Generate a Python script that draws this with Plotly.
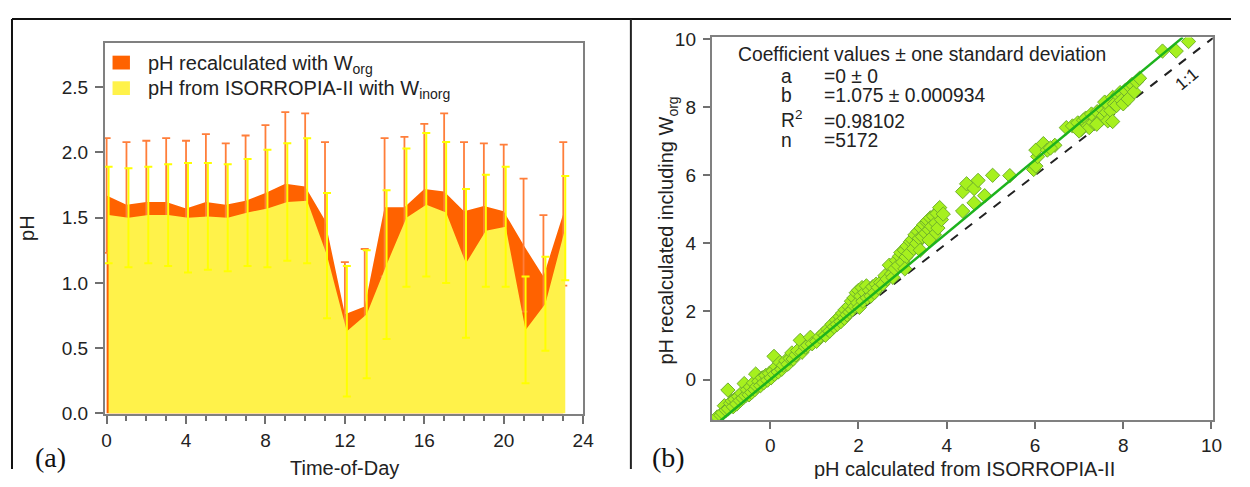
import plotly.graph_objects as go

# Page body keeps an 8px margin, so the figure is 16px smaller than the window
PAGE_W, PAGE_H = 1250, 487
OFF = 8
W, H = PAGE_W - 2 * OFF, PAGE_H - 2 * OFF

# ---------------- Panel (a) data ----------------
hours = list(range(24))
ph_worg = [1.67, 1.60, 1.62, 1.62, 1.57, 1.62, 1.60, 1.63, 1.69, 1.76, 1.74, 1.48,
           0.76, 0.82, 1.58, 1.58, 1.72, 1.70, 1.55, 1.59, 1.55, 1.29, 1.05, 1.53]
ph_worg_sd = [0.44, 0.48, 0.47, 0.49, 0.52, 0.52, 0.47, 0.50, 0.52, 0.55, 0.56, 0.60,
              0.40, 0.44, 0.53, 0.54, 0.50, 0.60, 0.53, 0.48, 0.51, 0.51, 0.47, 0.55]
ph_winorg = [1.52, 1.50, 1.52, 1.52, 1.50, 1.51, 1.50, 1.54, 1.57, 1.62, 1.63, 1.21,
             0.63, 0.76, 1.14, 1.50, 1.60, 1.54, 1.15, 1.40, 1.43, 0.64, 0.84, 1.42]
ph_winorg_sd = [0.37, 0.38, 0.37, 0.39, 0.42, 0.41, 0.41, 0.41, 0.45, 0.45, 0.48, 0.48,
                0.50, 0.49, 0.57, 0.53, 0.55, 0.54, 0.57, 0.43, 0.46, 0.41, 0.36, 0.40]
a_yticks = [0.0, 0.5, 1.0, 1.5, 2.0, 2.5]
a_xticks = [0, 4, 8, 12, 16, 20, 24]

# ---------------- Panel (b) data ----------------
isorropia_ph = [
    -1.20, -1.12, -1.08, -1.04, -1.00, -0.96, -0.95, -0.90, -0.86, -0.84, -0.80, -0.76, -0.72, -0.68,
    -0.65, -0.62, -0.59, -0.56, -0.52, -0.48, -0.45, -0.42, -0.38, -0.35, -0.33, -0.30, -0.26, -0.22,
    -0.18, -0.15, -0.10, -0.06, -0.02, 0.02, 0.06, 0.085, 0.10, 0.14, 0.18, 0.22, 0.26, 0.30, 0.35,
    0.40, 0.45, 0.49, 0.52, 0.58, 0.62, 0.68, 0.72, 0.80, 0.85, 0.91, 0.95,
    1.05, 1.12, 1.20, 1.25, 1.30, 1.35, 1.40, 1.45, 1.50, 1.52, 1.58, 1.60, 1.64, 1.68, 1.70, 1.74,
    1.78, 1.80, 1.84, 1.86, 1.90, 1.92, 1.95, 1.98, 2.00, 2.02, 2.05, 2.08, 2.10, 2.14, 2.18, 2.20,
    2.25, 2.28, 2.32, 2.36, 2.40, 2.45, 2.50, 2.55, 2.60, 2.65, 2.70, 2.75, 2.78,
    2.82, 2.86, 2.90, 2.93, 2.96, 3.00, 3.04, 3.08, 3.10, 3.14, 3.18, 3.22, 3.25, 3.28, 3.32, 3.35,
    3.38, 3.42, 3.45, 3.48, 3.52, 3.55, 3.57, 3.60, 3.63, 3.66, 3.70, 3.72, 3.75, 3.78, 3.80, 3.84,
    3.88, 3.92, 3.05, 3.40, 3.60,
    4.36, 4.45, 4.62, 4.71, 4.36, 4.62, 4.86, 5.04, 5.43,
    5.97, 6.02, 6.06, 6.02, 6.19, 6.28, 6.45, 6.35,
    6.71, 6.85, 6.97, 7.05, 7.10, 7.15, 7.20, 7.23, 7.28, 7.32, 7.36, 7.41, 7.45, 7.50, 7.52, 7.55,
    7.58, 7.62, 7.65, 7.68, 7.72, 7.76, 7.76, 7.80, 7.85, 7.88, 7.93, 7.96, 8.00, 8.05, 8.11, 8.15,
    8.20, 8.25, 8.30, 8.37, 7.40, 7.00,
    8.89, 9.20, 9.48]
recalc_ph = [
    -1.10, -1.05, -0.98, -0.77, -0.90, -0.31, -0.86, -0.70, -0.63, -0.80, -0.58, -0.72, -0.50, -0.62,
    -0.40, -0.55, -0.12, -0.48, -0.30, -0.45, -0.22, -0.38, -0.10, -0.30, 0.16, -0.20, -0.05, -0.18,
    0.05, -0.10, 0.12, -0.02, 0.18, 0.05, 0.25, 0.68, 0.15, 0.38, 0.22, 0.50, 0.30, 0.42, 0.55,
    0.45, 0.62, 0.78, 0.60, 0.72, 0.85, 1.15, 0.80, 0.95, 1.00, 1.24, 1.05,
    1.12, 1.25, 1.35, 1.30, 1.48, 1.42, 1.62, 1.55, 1.75, 1.62, 1.85, 1.70, 1.95, 1.80, 2.05, 1.90,
    2.15, 1.98, 2.30, 2.05, 2.40, 2.15, 2.55, 2.25, 2.62, 2.12, 2.45, 2.70, 2.30, 2.55, 2.75, 2.40,
    2.62, 2.45, 2.72, 2.55, 2.80, 2.70, 2.85, 2.80, 3.05, 2.95, 3.36, 3.10, 3.00,
    3.25, 3.50, 3.35, 3.62, 3.73, 3.45, 3.80, 3.60, 3.92, 3.70, 4.05, 4.11, 3.85, 4.25, 4.00, 4.35,
    4.15, 4.45, 4.20, 4.55, 4.30, 4.62, 4.67, 4.40, 4.75, 4.50, 4.80, 4.25, 4.60, 4.88, 4.45, 5.05,
    4.70, 4.86, 3.25, 3.80, 4.10,
    5.52, 5.75, 5.61, 5.85, 4.95, 5.19, 5.40, 6.00, 5.99,
    6.17, 6.27, 6.55, 6.74, 6.93, 6.74, 6.88, 6.80,
    7.40, 7.45, 7.54, 7.35, 7.62, 7.68, 7.45, 7.40, 7.80, 7.55, 7.70, 7.87, 7.60, 7.63, 7.95, 7.75,
    8.15, 7.85, 7.60, 8.05, 7.90, 8.29, 7.58, 8.10, 8.05, 8.35, 8.43, 8.20, 8.10, 8.50, 8.24, 8.60,
    8.67, 8.45, 8.75, 8.85, 7.50, 7.30,
    9.65, 9.65, 9.93]
fit_slope = 1.075
fit_x = [-1.15, 9.35]
one_to_one_x = [-1.4, 10.1]
b_ticks = [0, 2, 4, 6, 8, 10]

FONT = "Liberation Sans, Arial, sans-serif"
SERIF = "Liberation Serif, Times New Roman, serif"


def px(x):
    """page pixel x -> paper fraction"""
    return (x - OFF) / W


def py(y):
    """page pixel y -> paper fraction"""
    return 1 - (y - OFF) / H


fig = go.Figure()

# ----- Panel (a) -----
fig.add_trace(go.Scatter(x=hours, y=ph_worg, mode="lines", fill="tozeroy",
                         line=dict(width=0, color="#FF6200"), fillcolor="#FF6200",
                         xaxis="x", yaxis="y", showlegend=False, hoverinfo="skip"))
fig.add_trace(go.Scatter(x=hours, y=ph_worg, mode="markers",
                         marker=dict(size=1, color="rgba(0,0,0,0)"),
                         error_y=dict(type="data", array=ph_worg_sd, color="#FF7E3A",
                                      thickness=1.8, width=4),
                         xaxis="x", yaxis="y", showlegend=False, hoverinfo="skip"))
x_inorg = [h + 0.1 for h in hours]
fig.add_trace(go.Scatter(x=x_inorg, y=ph_winorg, mode="lines", fill="tozeroy",
                         line=dict(width=0, color="#FFF24A"), fillcolor="#FFF24A",
                         xaxis="x", yaxis="y", showlegend=False, hoverinfo="skip"))
fig.add_trace(go.Scatter(x=x_inorg, y=ph_winorg, mode="markers",
                         marker=dict(size=1, color="rgba(0,0,0,0)"),
                         error_y=dict(type="data", array=ph_winorg_sd, color="#FFFF00",
                                      thickness=2, width=4),
                         xaxis="x", yaxis="y", showlegend=False, hoverinfo="skip"))

# ----- Panel (b) -----
fig.add_trace(go.Scatter(x=one_to_one_x, y=one_to_one_x, mode="lines",
                         line=dict(color="#222222", width=2, dash="dash"),
                         xaxis="x2", yaxis="y2", showlegend=False, hoverinfo="skip"))
fig.add_trace(go.Scatter(x=isorropia_ph, y=recalc_ph, mode="markers",
                         marker=dict(symbol="diamond", size=11, color="#A6F01E",
                                     line=dict(color="#6FB02C", width=1)),
                         xaxis="x2", yaxis="y2", showlegend=False, hoverinfo="skip"))
fig.add_trace(go.Scatter(x=fit_x, y=[fit_slope * v for v in fit_x], mode="lines",
                         line=dict(color="#1DB31D", width=2.5),
                         xaxis="x2", yaxis="y2", showlegend=False, hoverinfo="skip"))

axis_common = dict(showgrid=False, zeroline=False, showline=True, mirror=True,
                   linecolor="#808080", linewidth=1.5, ticks="outside", tickcolor="#707070",
                   tickwidth=1.5, tickfont=dict(family=FONT, size=19, color="#222222"))

fig.update_layout(
    width=W, height=H, margin=dict(l=0, r=0, t=0, b=0), autosize=False,
    paper_bgcolor="white", plot_bgcolor="white", showlegend=False,
    font=dict(family=FONT, color="#222222"),
    xaxis=dict(domain=[px(102.7), px(586.7)], range=[-0.1, 24.0], tickvals=a_xticks,
               ticklen=8, minor=dict(dtick=1, tick0=0, ticklen=5, ticks="outside",
                                     tickcolor="#707070", tickwidth=1.5),
               anchor="y", **axis_common),
    yaxis=dict(domain=[py(421.7), py(35)], range=[-0.005, 2.84], tickvals=a_yticks,
               tickformat=".1f", ticklen=8, ticklabelstandoff=3, anchor="x", **axis_common),
    xaxis2=dict(domain=[px(716.6), px(1223.6)], range=[-1.33, 10.03], tickvals=b_ticks,
                ticklen=7, anchor="y2", **axis_common),
    yaxis2=dict(domain=[py(428.3), py(29.3)], range=[-1.2, 10.05], tickvals=b_ticks,
                ticklen=7, ticklabelstandoff=3, anchor="x2", **axis_common),
)

shapes = [
    # outer frame lines and divider
    dict(type="line", xref="paper", yref="paper", x0=px(9), x1=1, y0=py(10), y1=py(10),
         line=dict(color="#111111", width=2)),
    dict(type="line", xref="paper", yref="paper", x0=px(9), x1=px(9), y0=py(10), y1=0,
         line=dict(color="#111111", width=2)),
    dict(type="line", xref="paper", yref="paper", x0=px(635), x1=px(635), y0=py(10), y1=0,
         line=dict(color="#222222", width=2)),
    # legend swatches
    dict(type="rect", xref="paper", yref="paper", x0=px(110.7), x1=px(128.3), y0=py(62.7),
         y1=py(48.3), line=dict(width=0), fillcolor="#FF6200"),
    dict(type="rect", xref="paper", yref="paper", x0=px(110.7), x1=px(128.3), y0=py(89.3),
         y1=py(75), line=dict(width=0), fillcolor="#FFF24A"),
]
fig.update_layout(shapes=shapes)

ann = []


def add_text(text, x, y, size, xanchor="left", family=FONT, angle=0, color="#222222"):
    ann.append(dict(text=text, x=px(x), y=py(y), xref="paper", yref="paper", showarrow=False,
                    xanchor=xanchor, yanchor="middle", textangle=angle,
                    font=dict(family=family, size=size, color=color)))


# legend texts
add_text("pH recalculated with W<sub>org</sub>", 145, 57, 20)
add_text("pH from ISORROPIA-II with W<sub>inorg</sub>", 145, 84, 20)
# axis titles panel (a)
add_text("pH", 24, 228, 20, xanchor="center", angle=-90)
add_text("Time-of-Day", 345, 478, 20, xanchor="center")
add_text("(a)", 48, 467, 28, xanchor="center", family=SERIF, color="#111111")
# axis titles panel (b)
add_text("pH recalculated including W<sub>org</sub>", 672, 230, 20, xanchor="center", angle=-90)
add_text("pH calculated from ISORROPIA-II", 972, 479, 20, xanchor="center")
add_text("(b)", 673, 467, 28, xanchor="center", family=SERIF, color="#111111")
# coefficient box
CS = 19.3
add_text("Coefficient values ± one standard deviation", 741, 47, CS)
add_text("a", 785, 70, CS)
add_text("=0 ± 0", 828, 70, CS)
add_text("b", 785, 90, CS)
add_text("=1.075 ± 0.000934", 828, 90, CS)
add_text("R<sup>2</sup>", 785, 114, CS)
add_text("=0.98102", 828, 117, CS)
add_text("n", 785, 137, CS)
add_text("=5172", 828, 137, CS)
# 1:1 label
add_text("1:1", 1197, 73, 17, xanchor="center", angle=-40)

fig.update_layout(annotations=ann)

fig.write_html("out.html", config={"displayModeBar": False})
